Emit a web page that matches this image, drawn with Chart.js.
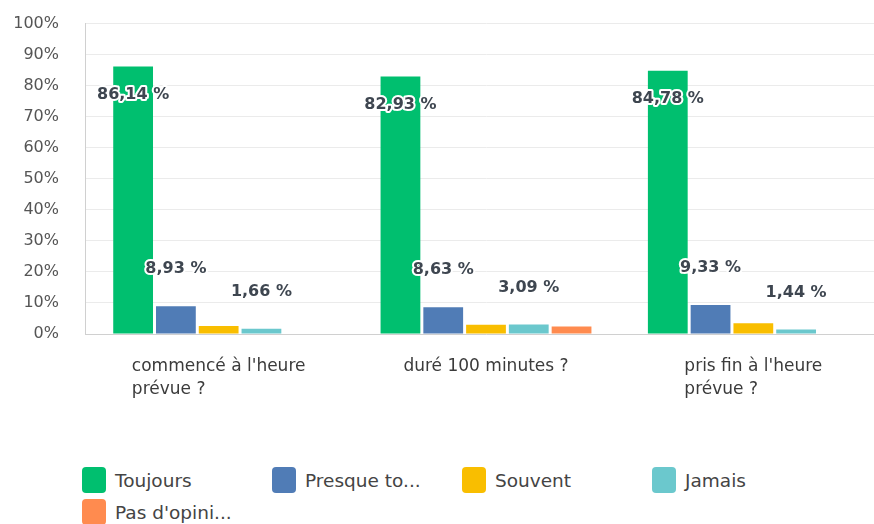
<!DOCTYPE html>
<html>
<head>
<meta charset="utf-8">
<script src="https://cdn.jsdelivr.net/npm/chart.js@4"></script>
<style>
  html, body { margin: 0; padding: 0; background: #fff; overflow: hidden; }
  #wrap { position: relative; width: 887px; height: 452px; margin-top: -12px; }
  #legend {
    position: absolute; left: 82px; top: 467px;
    display: grid; grid-template-columns: repeat(4, 190px); row-gap: 6px;
    font-family: "DejaVu Sans", sans-serif; font-size: 18.5px; color: #444;
  }
  .item { display: flex; align-items: center; height: 26px; white-space: nowrap; }
  .box { width: 24px; height: 26px; border-radius: 4px; margin-right: 9px; flex: none; }
</style>
</head>
<body>
<div id="wrap"><canvas id="chart" width="887" height="452"></canvas></div>
<div id="legend"></div>
<script>
const categories = [
    ["commencé à l'heure", "prévue ?"],
    ["duré 100 minutes ?"],
    ["pris fin à l'heure", "prévue ?"]
];
const seriesNames = ['Toujours', 'Presque toujours', 'Souvent', 'Jamais', "Pas d'opinion"];
const legendNames = ['Toujours', 'Presque to...', 'Souvent', 'Jamais', "Pas d'opini..."];
const colors = ['#00bf6f', '#507cb6', '#f9be00', '#6bc8cd', '#ff8b4f'];

const toujours = [86.14, 82.93, 84.78];
const presque = [8.93, 8.63, 9.33];
const souvent = [2.6, 2.97, 3.5];
const jamais = [1.66, 3.09, 1.44];
const pasOpinion = [0, 2.38, 0];

// which series get a value label
const labelled = [true, true, false, true, false];

const yTicks = [0, 10, 20, 30, 40, 50, 60, 70, 80, 90, 100];

const allValues = [toujours, presque, souvent, jamais, pasOpinion];

const fmt = v => v.toFixed(2).replace('.', ',') + ' %';

// value labels with white halo
const valueLabels = {
    id: 'valueLabels',
    afterDatasetsDraw(chart) {
        const ctx = chart.ctx;
        ctx.save();
        ctx.font = 'bold 16px "DejaVu Sans", sans-serif';
        ctx.textAlign = 'center';
        ctx.textBaseline = 'middle';
        ctx.lineJoin = 'round';
        chart.data.datasets.forEach((ds, i) => {
            if (!labelled[i]) return;
            chart.getDatasetMeta(i).data.forEach((bar, j) => {
                const v = ds.data[j];
                const y = v > 50 ? bar.y + 28 : bar.y - 37;
                const text = fmt(v);
                ctx.strokeStyle = '#fff';
                ctx.lineWidth = 4;
                ctx.strokeText(text, bar.x, y);
                ctx.fillStyle = '#3e4650';
                ctx.fillText(text, bar.x, y);
            });
        });
        ctx.restore();
    }
};

// category labels: block centred, lines left aligned
const catLabels = {
    id: 'catLabels',
    afterDraw(chart) {
        const ctx = chart.ctx;
        const x = chart.scales.x;
        ctx.save();
        ctx.font = '17px "DejaVu Sans", sans-serif';
        ctx.fillStyle = '#3b3b3b';
        ctx.textAlign = 'left';
        ctx.textBaseline = 'middle';
        categories.forEach((lines, i) => {
            const cx = x.getPixelForValue(i);
            const w = Math.max(...lines.map(l => ctx.measureText(l).width));
            lines.forEach((l, k) => ctx.fillText(l, cx - w / 2, chart.chartArea.bottom + 33 + k * 23));
        });
        ctx.restore();
    }
};

new Chart(document.getElementById('chart'), {
    type: 'bar',
    data: {
        labels: categories.map(c => c.join(' ')),
        datasets: seriesNames.map((name, i) => ({
            label: name,
            data: allValues[i],
            backgroundColor: colors[i],
            categoryPercentage: 0.8,
            barPercentage: 0.93
        }))
    },
    options: {
        responsive: false,
        animation: false,
        layout: { padding: { top: 12, right: 0, left: 0, bottom: 0 } },
        plugins: { legend: { display: false }, tooltip: { enabled: false } },
        scales: {
            x: {
                ticks: { display: false },
                grid: { display: false },
                border: { color: '#d0d0d0' },
                afterFit: s => { s.height = 106; }
            },
            y: {
                min: 0,
                max: 100,
                afterBuildTicks: s => { s.ticks = yTicks.map(v => ({ value: v })); },
                ticks: {
                    padding: 26,
                    color: '#555',
                    font: { family: '"DejaVu Sans", sans-serif', size: 16 },
                    callback: v => v + '%'
                },
                grid: { color: '#ebebeb', drawTicks: false },
                border: { color: '#d0d0d0' },
                afterFit: s => { s.width = 85; }
            }
        }
    },
    plugins: [valueLabels, catLabels]
});

// html legend
const legend = document.getElementById('legend');
legendNames.forEach((name, i) => {
    const item = document.createElement('div');
    item.className = 'item';
    item.innerHTML = '<span class="box" style="background:' + colors[i] + '"></span>' + name;
    legend.appendChild(item);
});
</script>
</body>
</html>
